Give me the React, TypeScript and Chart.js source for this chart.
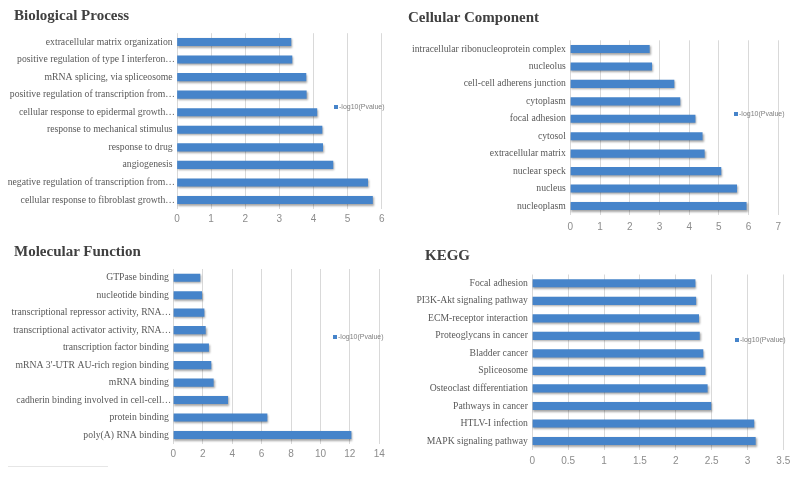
import React, { useEffect, useRef } from "react";
import { Chart, registerables } from "chart.js";

Chart.register(...registerables);

// ---------- DATA ----------
const bpLabels = [
  "extracellular matrix organization ",
  "positive regulation of type I interferon…",
  "mRNA splicing, via spliceosome ",
  "positive regulation of transcription from…",
  "cellular response to epidermal growth…",
  "response to mechanical stimulus ",
  "response to drug ",
  "angiogenesis ",
  "negative regulation of transcription from…",
  "cellular response to fibroblast growth…",
];
const bpValues = [3.34, 3.37, 3.78, 3.79, 4.1, 4.25, 4.27, 4.57, 5.59, 5.73];

const ccLabels = [
  "intracellular ribonucleoprotein complex ",
  "nucleolus ",
  "cell-cell adherens junction ",
  "cytoplasm ",
  "focal adhesion ",
  "cytosol ",
  "extracellular matrix ",
  "nuclear speck ",
  "nucleus ",
  "nucleoplasm ",
];
const ccValues = [2.66, 2.74, 3.49, 3.69, 4.2, 4.44, 4.51, 5.07, 5.6, 5.92];

const mfLabels = [
  "GTPase binding ",
  "nucleotide binding ",
  "transcriptional repressor activity, RNA…",
  "transcriptional activator activity, RNA…",
  "transcription factor binding ",
  "mRNA 3'-UTR AU-rich region binding ",
  "mRNA binding ",
  "cadherin binding involved in cell-cell…",
  "protein binding ",
  "poly(A) RNA binding ",
];
const mfValues = [1.81, 1.93, 2.09, 2.18, 2.4, 2.56, 2.72, 3.7, 6.37, 12.08];

const keggLabels = [
  "Focal adhesion ",
  "PI3K-Akt signaling pathway ",
  "ECM-receptor interaction ",
  "Proteoglycans in cancer ",
  "Bladder cancer ",
  "Spliceosome ",
  "Osteoclast differentiation ",
  "Pathways in cancer ",
  "HTLV-I infection ",
  "MAPK signaling pathway ",
];
const keggValues = [2.27, 2.28, 2.32, 2.33, 2.38, 2.41, 2.44, 2.49, 3.09, 3.11];

const seriesName = "-log10(Pvalue)";

// ---------- PANEL ----------
type PanelProps = {
  title: string;
  labels: string[];
  values: number[];
  max: number;
  step: number;
  box: { left: number; top: number; width: number; height: number };
  area: { left: number; right: number; top: number; bottom: number };
  tickPad: number;
  titlePos: { x: number; y: number };
  legendPos: { x: number; y: number };
};

const shadowPlugin = {
  id: "barShadow",
  beforeDatasetsDraw(chart: any) {
    const ctx = chart.ctx;
    ctx.save();
    ctx.shadowColor = "rgba(0,0,0,0.35)";
    ctx.shadowOffsetX = 1;
    ctx.shadowOffsetY = 1.5;
    ctx.shadowBlur = 2;
  },
  afterDatasetsDraw(chart: any) {
    chart.ctx.restore();
  },
};

function Panel(p: PanelProps) {
  const ref = useRef<HTMLCanvasElement | null>(null);
  useEffect(() => {
    if (!ref.current) return;
    const xAxisH = 22;
    const chart = new Chart(ref.current, {
      type: "bar",
      data: {
        labels: p.labels,
        datasets: [
          {
            label: seriesName,
            data: p.values,
            backgroundColor: "#4684ca",
            borderWidth: 0,
            barThickness: 7.5,
          },
        ],
      },
      options: {
        indexAxis: "y",
        animation: false,
        responsive: false,
        maintainAspectRatio: false,
        layout: {
          padding: {
            left: 0,
            right: p.box.left + p.box.width - p.area.right,
            top: p.area.top - p.box.top,
            bottom: p.box.top + p.box.height - p.area.bottom - xAxisH,
          },
        },
        plugins: {
          legend: { display: false },
          tooltip: { enabled: false },
          title: { display: false },
        },
        scales: {
          x: {
            min: 0,
            max: p.max,
            ticks: {
              stepSize: p.step,
              color: "#8c8c8c",
              padding: p.tickPad,
              font: { family: "'Liberation Sans', Arial, sans-serif", size: 10 },
              callback: (v: any) => String(Number(v)),
            },
            grid: { color: "#d9d9d9", lineWidth: 1, drawTicks: false },
            border: { display: false },
            afterFit: (s: any) => {
              s.height = xAxisH;
            },
          },
          y: {
            ticks: {
              color: "#595959",
              padding: 2,
              autoSkip: false,
              font: { family: "'Liberation Serif', 'Times New Roman', serif", size: 9.7 },
            },
            grid: { display: false, drawTicks: false },
            border: { display: false },
            afterFit: (s: any) => {
              s.width = p.area.left - p.box.left;
            },
          },
        },
      },
      plugins: [shadowPlugin],
    } as any);
    return () => chart.destroy();
  }, []);

  return (
    <>
      <canvas
        ref={ref}
        width={p.box.width}
        height={p.box.height}
        style={{
          position: "absolute",
          left: p.box.left,
          top: p.box.top,
          width: p.box.width,
          height: p.box.height,
        }}
      />
      <div
        style={{
          position: "absolute",
          left: p.titlePos.x,
          top: p.titlePos.y,
          fontFamily: "'Liberation Serif', 'Times New Roman', serif",
          fontWeight: "bold",
          fontSize: 15,
          color: "#404040",
          whiteSpace: "nowrap",
          lineHeight: "20px",
        }}
      >
        {p.title}
      </div>
      <div
        style={{
          position: "absolute",
          left: p.legendPos.x,
          top: p.legendPos.y,
          display: "flex",
          alignItems: "center",
          fontFamily: "'Liberation Sans', Arial, sans-serif",
          fontSize: 7,
          color: "#7f7f7f",
          whiteSpace: "nowrap",
          lineHeight: "8px",
        }}
      >
        <span
          style={{
            display: "inline-block",
            width: 4,
            height: 4,
            background: "#4684ca",
            marginRight: 1,
          }}
        />
        {seriesName}
      </div>
    </>
  );
}

export default function App() {
  return (
    <div
      style={{
        position: "absolute",
        left: 0,
        top: 0,
        width: 800,
        height: 483,
        background: "#ffffff",
        overflow: "hidden",
      }}
    >
      <Panel
        title="Biological Process"
        labels={bpLabels}
        values={bpValues}
        max={6}
        step={1}
        box={{ left: 0, top: 0, width: 400, height: 240 }}
        area={{ left: 177, right: 381.7, top: 33.2, bottom: 208.8 }}
        tickPad={4}
        titlePos={{ x: 14, y: 5 }}
        legendPos={{ x: 334, y: 103 }}
      />
      <Panel
        title="Cellular Component"
        labels={ccLabels}
        values={ccValues}
        max={7}
        step={1}
        box={{ left: 400, top: 0, width: 400, height: 240 }}
        area={{ left: 570.3, right: 778.3, top: 40.3, bottom: 214.7 }}
        tickPad={7}
        titlePos={{ x: 408, y: 7 }}
        legendPos={{ x: 734, y: 110 }}
      />
      <Panel
        title="Molecular Function"
        labels={mfLabels}
        values={mfValues}
        max={14}
        step={2}
        box={{ left: 0, top: 240, width: 400, height: 243 }}
        area={{ left: 173.3, right: 379.3, top: 269, bottom: 443.7 }}
        tickPad={5}
        titlePos={{ x: 14, y: 241 }}
        legendPos={{ x: 333, y: 333 }}
      />
      <Panel
        title="KEGG"
        labels={keggLabels}
        values={keggValues}
        max={3.5}
        step={0.5}
        box={{ left: 400, top: 240, width: 400, height: 243 }}
        area={{ left: 532.3, right: 783.3, top: 274.5, bottom: 449.8 }}
        tickPad={5}
        titlePos={{ x: 425, y: 245 }}
        legendPos={{ x: 735, y: 336 }}
      />
      <div
        style={{
          position: "absolute",
          left: 8,
          top: 466,
          width: 100,
          height: 1,
          background: "#e6e6e6",
        }}
      />
    </div>
  );
}
